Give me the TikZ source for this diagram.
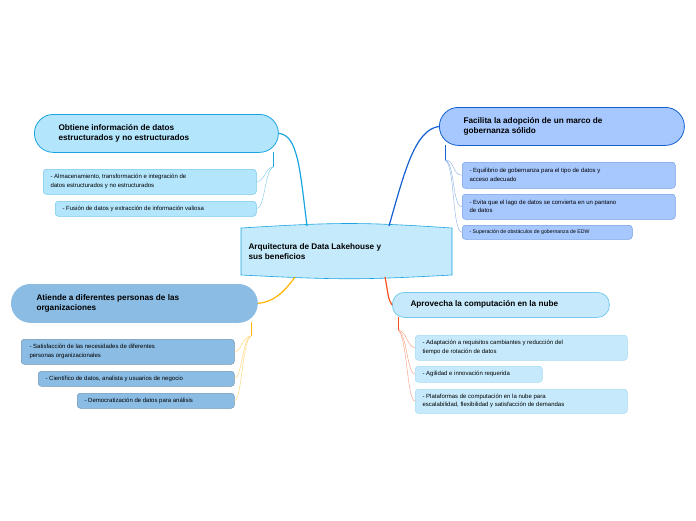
\documentclass[tikz,border=0pt]{standalone}
\usepackage{fontspec}
\setmainfont{Liberation Sans}
\begin{document}
\begin{tikzpicture}[x=1pt,y=-1pt,
 topic/.style={rounded corners=19pt,draw,line width=0.8pt,anchor=north west,inner sep=0pt},
 sub/.style={rounded corners=3pt,draw,line width=0.5pt,anchor=north west,inner sep=0pt},
 ttext/.style={anchor=west,align=left,font=\fontsize{8.2}{10}\selectfont\bfseries},
 stext/.style={anchor=west,align=left,font=\fontsize{6}{8.5}\selectfont},
 conn/.style={line width=1.2pt},
 sconn/.style={line width=0.4pt}]
\useasboundingbox (0,0) rectangle (696,520);
\definecolor{c1f}{HTML}{B3E5FC}\definecolor{c1d}{HTML}{1BA5E0}
\definecolor{c2f}{HTML}{A6C8FE}\definecolor{c2d}{HTML}{1560D0}
\definecolor{c3f}{HTML}{8BBCE4}\definecolor{c3d}{HTML}{FFB300}
\definecolor{c4f}{HTML}{C6EAFC}\definecolor{c4d}{HTML}{F4511E}
\definecolor{cf}{HTML}{C4EAFC}
% center
\draw[fill=cf,draw=c1d,line width=0.6pt] (241,228) .. controls (340,222) and (360,222) .. (452,228) -- (452,275) .. controls (360,280) and (340,280) .. (241,275) -- cycle;
\node[ttext] (c) at (245,252) {Arquitectura de Data Lakehouse y\\sus beneficios};
\coordinate (ct1) at (307,226);\coordinate (ct2) at (389,226);
\coordinate (cb3) at (295,277);\coordinate (cb4) at (385,277);
% topic 1
\node[topic,fill=c1f,draw=c1d,minimum width=244pt,minimum height=38pt] (t1) at (34,114) {};
\node[ttext] at (55,133) {Obtiene información de datos\\estructurados y no estructurados};
\node[sub,fill=c1f,draw=c1d!60,minimum width=213pt,minimum height=25pt] (s11) at (43,169) {};
\node[stext] at (47,181.5) {- Almacenamiento, transformación e integración de\\datos estructurados y no estructurados};
\node[sub,fill=c1f,draw=c1d!60,minimum width=201pt,minimum height=15pt] (s12) at (55,201) {};
\node[stext] at (59,208.5) {- Fusión de datos y extracción de información valiosa};
\draw[conn,c1d] (ct1) .. controls (300,170) and (298,135) .. (t1.east);
\coordinate (j1) at (273,167);
\draw[sconn,c1d] (273,152) -- (j1);
\draw[sconn,c1d!60] (j1) .. controls (265,168) and (265,181) .. (s11.east);
\draw[sconn,c1d!60] (j1) .. controls (265,170) and (265,208) .. (s12.east);
% topic 2
\node[topic,fill=c2f,draw=c2d,minimum width=245pt,minimum height=38pt] (t2) at (439,107) {};
\node[ttext] at (460,126) {Facilita la adopción de un marco de\\gobernanza sólido};
\node[sub,fill=c2f,draw=c2d!60,minimum width=213pt,minimum height=26pt] (s21) at (462,162) {};
\node[stext] at (466,175) {- Equilibrio de gobernanza para el tipo de datos y\\acceso adecuado};
\node[sub,fill=c2f,draw=c2d!60,minimum width=213pt,minimum height=25pt] (s22) at (462,194) {};
\node[stext] at (466,206.5) {- Evita que el lago de datos se convierta en un pantano\\de datos};
\node[sub,fill=c2f,draw=c2d!60,minimum width=170pt,minimum height=14pt] (s23) at (462,225) {};
\node[stext,font=\fontsize{5.2}{7}\selectfont] at (466,232) {- Superación de obstáculos de gobernanza de EDW};
\draw[conn,c2d] (ct2) .. controls (405,170) and (415,130) .. (t2.west);
\coordinate (j2) at (445,160);
\draw[sconn,c2d] (445,145) -- (j2);
\draw[sconn,c2d!50] (j2) .. controls (455,160) and (452,175) .. (s21.west);
\draw[sconn,c2d!50] (j2) .. controls (455,162) and (452,206) .. (s22.west);
\draw[sconn,c2d!50] (j2) .. controls (455,164) and (452,232) .. (s23.west);
% topic 3
\node[topic,fill=c3f,draw=c3f,minimum width=246pt,minimum height=38pt] (t3) at (11,284) {};
\node[ttext] at (33,303) {Atiende a diferentes personas de las\\organizaciones};
\node[sub,fill=c3f,draw=c3f!80!black,minimum width=213pt,minimum height=25pt] (s31) at (21,339) {};
\node[stext] at (26,351.5) {- Satisfacción de las necesidades de diferentes\\personas organizacionales};
\node[sub,fill=c3f,draw=c3f!80!black,minimum width=196pt,minimum height=15pt] (s32) at (38,371) {};
\node[stext] at (42,378.5) {- Científico de datos, analista y usuarios de negocio};
\node[sub,fill=c3f,draw=c3f!80!black,minimum width=157pt,minimum height=15pt] (s33) at (77,393) {};
\node[stext] at (81,400.5) {- Democratización de datos para análisis};
\draw[conn,c3d] (cb3) .. controls (282,295) and (272,302) .. (t3.east);
\coordinate (j3) at (251,336);
\draw[sconn,c3d] (251,322) -- (j3);
\draw[sconn,c3d!60] (j3) .. controls (242,337) and (242,351) .. (s31.east);
\draw[sconn,c3d!60] (j3) .. controls (242,339) and (242,378) .. (s32.east);
\draw[sconn,c3d!60] (j3) .. controls (242,341) and (242,400) .. (s33.east);
% topic 4
\node[topic,rounded corners=12pt,fill=c4f,draw=c1d!60,minimum width=217pt,minimum height=25pt] (t4) at (392,292) {};
\node[ttext] at (407,304.5) {Aprovecha la computación en la nube};
\node[sub,fill=c4f,draw=c1d!40,minimum width=212pt,minimum height=25pt] (s41) at (415,335) {};
\node[stext] at (419,347.5) {- Adaptación a requisitos cambiantes y reducción del\\tiempo de rotación de datos};
\node[sub,fill=c4f,draw=c1d!40,minimum width=127pt,minimum height=16pt] (s42) at (415,366) {};
\node[stext] at (419,374) {- Agilidad e innovación requerida};
\node[sub,fill=c4f,draw=c1d!40,minimum width=212pt,minimum height=24pt] (s43) at (415,389) {};
\node[stext] at (419,401) {- Plataformas de computación en la nube para\\escalabilidad, flexibilidad y satisfacción de demandas};
\draw[conn,c4d] (cb4) .. controls (388,292) and (388,300) .. (t4.west);
\coordinate (j4) at (398,330);
\draw[sconn,c4d] (398,317) -- (j4);
\draw[sconn,c4d!60] (j4) .. controls (407,331) and (407,347) .. (s41.west);
\draw[sconn,c4d!60] (j4) .. controls (407,333) and (407,374) .. (s42.west);
\draw[sconn,c4d!60] (j4) .. controls (407,335) and (407,401) .. (s43.west);
\end{tikzpicture}
\end{document}
